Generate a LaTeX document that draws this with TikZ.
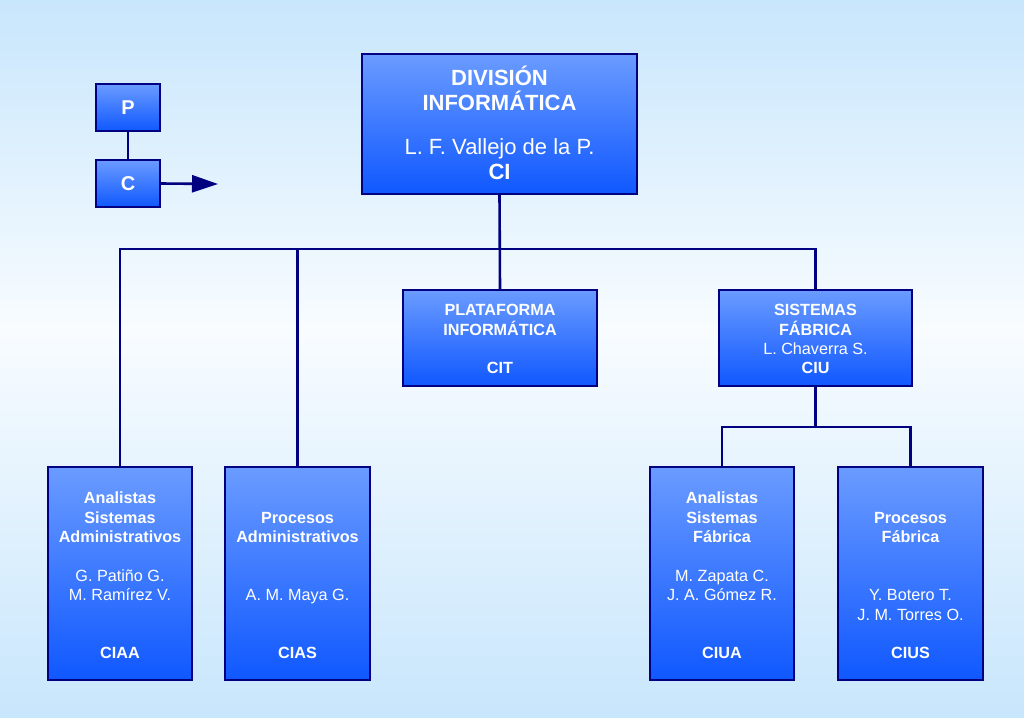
\documentclass[tikz,border=0pt]{standalone}
\usepackage{fontspec}
\setmainfont{Liberation Sans}
\usetikzlibrary{arrows.meta}
\definecolor{navy}{RGB}{0,0,128}
\definecolor{boxtop}{RGB}{106,155,255}
\definecolor{boxbot}{RGB}{16,88,255}
\definecolor{bgblue}{RGB}{200,230,252}
\definecolor{bgwhite}{RGB}{248,252,255}
\newcommand{\topsp}[1]{\rule{0pt}{#1}}
\tikzset{
  orgbox/.style={draw=navy, line width=1.4pt, top color=boxtop, bottom color=boxbot,
    text=white, align=center, inner sep=0pt, font=\fontsize{16.2}{19.4}\selectfont},
  bigbox/.style={orgbox, font=\fontsize{22}{25}\selectfont},
  legbox/.style={orgbox, font=\fontsize{20}{24}\selectfont\bfseries},
  conn/.style={draw=navy, line width=2.6pt},
}
\begin{document}
\begin{tikzpicture}[x=1pt,y=-1pt]
\useasboundingbox (0,0) rectangle (1024,717);
\shade[top color=bgblue, bottom color=bgwhite] (0,0) rectangle (1024,330);
\shade[top color=bgwhite, bottom color=bgblue] (0,330) rectangle (1024,717);

% legend
\node[legbox, minimum width=64pt, minimum height=47pt] (p) at (128,107.5) {P};
\node[legbox, minimum width=64pt, minimum height=47pt] (c) at (128,183.5) {C};
\coordinate (arr) at (218,184);
\draw[conn] (p.south) -- (c.north);
\draw[conn, -{Triangle[length=26pt,width=17pt]}] (c.east) -- (arr);

% top
\node[bigbox, minimum width=275pt, minimum height=140pt] (ci) at (499.5,124)
  {\topsp{25pt}\textbf{DIVISIÓN}\\\textbf{INFORMÁTICA}\\[19pt]L. F. Vallejo de la P.\\\textbf{CI}\strut};

% middle
\node[orgbox, minimum width=194pt, minimum height=96pt] (cit) at (500,338)
  {\topsp{19.6pt}\textbf{PLATAFORMA}\\\textbf{INFORMÁTICA}\\[19.4pt]\textbf{CIT}\strut};
\node[orgbox, minimum width=193pt, minimum height=96pt] (ciu) at (815.5,338)
  {\topsp{19.6pt}\textbf{SISTEMAS}\\\textbf{FÁBRICA}\\L. Chaverra S.\\\textbf{CIU}\strut};

% bottom
\node[orgbox, minimum width=144pt, minimum height=213pt] (ciaa) at (120,573.5)
  {\topsp{21.6pt}\textbf{Analistas}\\\textbf{Sistemas}\\\textbf{Administrativos}\\[19.4pt]G. Patiño G.\\M. Ramírez V.\\[38.8pt]\textbf{CIAA}\strut};
\node[orgbox, minimum width=145pt, minimum height=213pt] (cias) at (297.5,573.5)
  {\topsp{21.6pt}\\\textbf{Procesos}\\\textbf{Administrativos}\\[38.8pt]A. M. Maya G.\\[38.8pt]\textbf{CIAS}\strut};
\node[orgbox, minimum width=144pt, minimum height=213pt] (ciua) at (722,573.5)
  {\topsp{21.6pt}\textbf{Analistas}\\\textbf{Sistemas}\\\textbf{Fábrica}\\[19.4pt]M. Zapata C.\\J. A. Gómez R.\\[38.8pt]\textbf{CIUA}\strut};
\node[orgbox, minimum width=145pt, minimum height=213pt] (cius) at (910.5,573.5)
  {\topsp{21.6pt}\\\textbf{Procesos}\\\textbf{Fábrica}\\[38.8pt]Y. Botero T.\\J. M. Torres O.\\[19.4pt]\textbf{CIUS}\strut};

% connectors
\coordinate (bus) at (499.5,249);
\coordinate (bus2) at (815.5,427);
\draw[conn] (ci.south) -- (cit.north);
\draw[conn] (ciaa.north) |- (bus) -| (ciu.north);
\draw[conn] (cias.north) -- (cias.north |- bus);
\draw[conn] (ciu.south) -- (bus2);
\draw[conn] (ciua.north) |- (bus2) -| (cius.north);
\end{tikzpicture}
\end{document}
